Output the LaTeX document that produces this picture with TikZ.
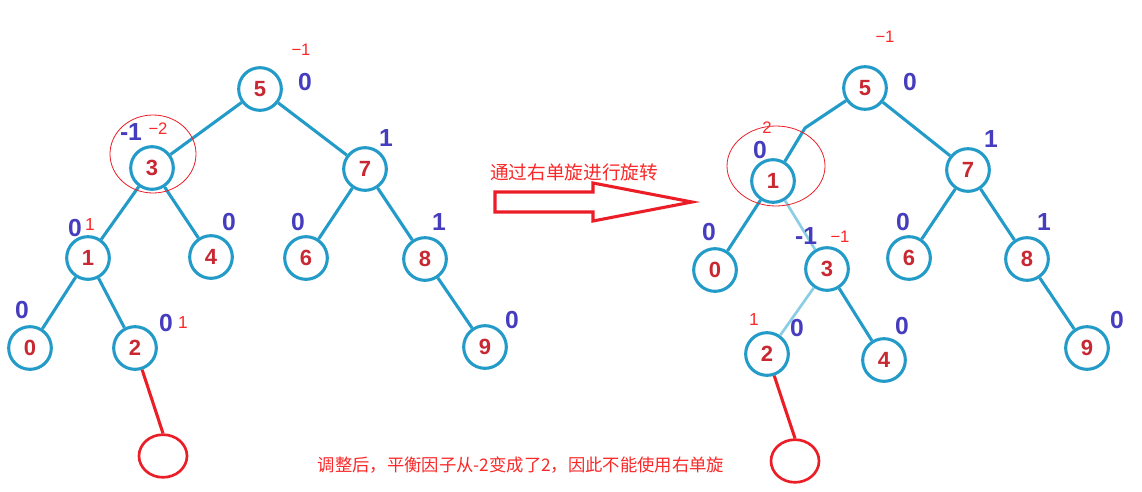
\documentclass[tikz,border=0pt]{standalone}
\usepackage{fontspec}
\usetikzlibrary{shapes.geometric}
\setmainfont{Liberation Sans}
\newfontfamily\cjk{Noto Sans CJK SC}
\definecolor{nodeblue}{RGB}{35,155,200}
\definecolor{lightblue}{RGB}{140,205,230}
\definecolor{digitred}{RGB}{200,40,50}
\definecolor{labelblue}{RGB}{70,60,190}
\definecolor{redline}{RGB}{235,30,40}
\definecolor{redtxt}{RGB}{250,40,40}
\begin{document}
\begin{tikzpicture}[x=0.75pt,y=-0.75pt,
  tnode/.style={circle,draw=nodeblue,line width=2.3pt,minimum size=32pt,inner sep=0pt,
    font=\fontsize{16.5}{16.5}\selectfont\bfseries,text=digitred},
  tedge/.style={draw=nodeblue,line width=2.3pt},
  ledge/.style={draw=lightblue,line width=2pt},
  bl/.style={font=\fontsize{18.5}{18.5}\selectfont\bfseries,text=labelblue,inner sep=0pt},
  rl/.style={font=\fontsize{12.5}{12.5}\selectfont,text=redtxt,inner sep=0pt},
  nullnode/.style={ellipse,draw=redline,line width=2pt,minimum width=36pt,minimum height=32pt,inner sep=0pt},
  nullline/.style={draw=redline,line width=2.3pt},
  hl/.style={draw=redline,line width=0.6pt},
  note/.style={font=\cjk\fontsize{13}{13}\selectfont,text=redtxt,inner sep=0pt}]
\path[use as bounding box] (0,0) rectangle (1142,492);
\fill[white] (0,0) rectangle (1142,492);

% ---------------- left tree ----------------
\node[tnode] (l5) at (260,89) {5};
\node[tnode] (l3) at (152,168) {3};
\node[tnode] (l7) at (365,169) {7};
\node[tnode] (l1) at (88,258) {1};
\node[tnode] (l4) at (211,257) {4};
\node[tnode] (l6) at (306,258) {6};
\node[tnode] (l8) at (425,259) {8};
\node[tnode] (l0) at (30,348) {0};
\node[tnode] (l2) at (135,348) {2};
\node[tnode] (l9) at (485,347) {9};
\draw[tedge] (l5) -- (l3);
\draw[tedge] (l5) -- (l7);
\draw[tedge] (l3) -- (l1);
\draw[tedge] (l3) -- (l4);
\draw[tedge] (l7) -- (l6);
\draw[tedge] (l7) -- (l8);
\draw[tedge] (l1) -- (l0);
\draw[tedge] (l1) -- (l2);
\draw[tedge] (l8) -- (l9);
\node[nullnode] (lnull) at (163,456) {};
\draw[nullline] (l2) -- (lnull.north);
\draw[hl] (153,154) ellipse [x radius=43, y radius=39];

\node[rl] at (301,50) {−1};
\node[bl] at (305,82) {0};
\node[bl] at (131,132) {-1};
\node[rl] at (158,129) {−2};
\node[bl] at (386,138) {1};
\node[bl] at (75,228) {0};
\node[rl,font=\fontsize{13}{13}\selectfont] at (90,225) {1};
\node[bl] at (229,222) {0};
\node[bl] at (298,222) {0};
\node[bl] at (439,222) {1};
\node[bl] at (22,310) {0};
\node[bl] at (166,323) {0};
\node[rl,font=\fontsize{13}{13}\selectfont] at (183,323) {1};
\node[bl] at (512,320) {0};

% ---------------- arrow ----------------
\node[note,font=\cjk\fontsize{14}{14}\selectfont] (cap) at (574,172) {通过右单旋进行旋转};
\draw[redline,line width=2.3pt,line join=miter]
  (495,192) -- (593,192) -- (593,183) -- (692,202) -- (593,221) -- (593,212) -- (495,212) -- cycle;

% ---------------- right tree ----------------
\node[tnode] (r5) at (865,88) {5};
\node[tnode] (r1) at (773,181) {1};
\node[tnode] (r7) at (968,170) {7};
\node[tnode] (r0) at (715,270) {0};
\node[tnode] (r3) at (827,269) {3};
\node[tnode] (r6) at (909,258) {6};
\node[tnode] (r8) at (1027,259) {8};
\node[tnode] (r2) at (767,354) {2};
\node[tnode] (r4) at (884,360) {4};
\node[tnode] (r9) at (1087,348) {9};
\coordinate (rbend) at (805,128);
\draw[tedge] (r5) -- (rbend) -- (r1);
\draw[tedge] (r5) -- (r7);
\draw[tedge] (r1) -- (r0);
\draw[ledge] (r1) -- (r3);
\draw[ledge] (r3) -- (r2);
\draw[tedge] (r3) -- (r4);
\draw[tedge] (r7) -- (r6);
\draw[tedge] (r7) -- (r8);
\draw[tedge] (r8) -- (r9);
\node[nullnode] (rnull) at (795,461) {};
\draw[nullline] (r2) -- (rnull.north);
\draw[hl] (776,166) ellipse [x radius=49, y radius=40];

\node[rl] at (885,37) {−1};
\node[bl] at (910,82) {0};
\node[rl] at (767,128) {2};
\node[bl] at (760,150) {0};
\node[bl] at (991,139) {1};
\node[bl] at (709,232) {0};
\node[bl] at (806,236) {-1};
\node[rl] at (840,237) {−1};
\node[bl] at (903,222) {0};
\node[bl] at (1044,222) {1};
\node[rl,font=\fontsize{13}{13}\selectfont] at (754,320) {1};
\node[bl] at (797,328) {0};
\node[bl] at (902,326) {0};
\node[bl] at (1117,320) {0};

% ---------------- bottom note ----------------
\node[note] (bottom) at (521,465) {调整后，平衡因子从-2变成了2，因此不能使用右单旋};
\end{tikzpicture}
\end{document}
